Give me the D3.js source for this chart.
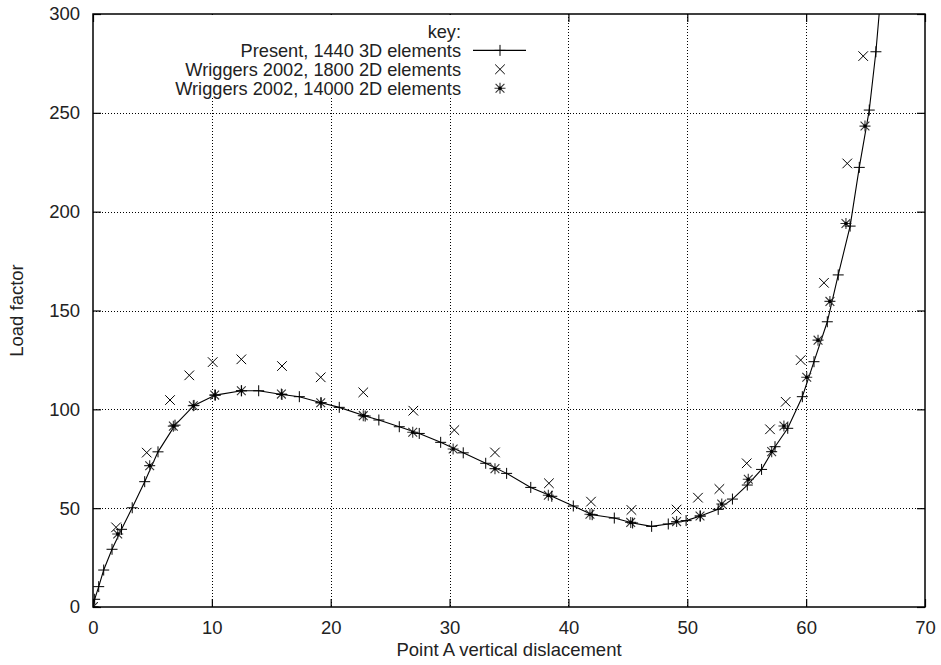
<!DOCTYPE html>
<html>
<head>
<meta charset="utf-8">
<script src="https://cdn.jsdelivr.net/npm/d3@7/dist/d3.min.js"></script>
<style>
  html, body { margin: 0; padding: 0; background: #fff; }
  svg { display: block; }
  text { font-family: "Liberation Sans", Arial, Helvetica, sans-serif; fill: #222; }
</style>
</head>
<body>
<svg id="chart" width="941" height="665"></svg>
<script>
// ---- Data ----
const xTicks = [0, 10, 20, 30, 40, 50, 60, 70];
const yTicks = [0, 50, 100, 150, 200, 250, 300];

// Present, 1440 3D elements  [displacement, load factor]
const present = [
  [0, 0], [0.14, 3.9], [0.48, 10.3], [0.9, 18.7], [1.6, 29.2], [2.4, 39.3],
  [3.3, 50.2], [4.35, 63.4], [5.47, 78.5], [6.9, 92.0], [8.5, 102.0],
  [10.3, 107.2], [12.5, 109.4], [13.94, 109.4], [15.9, 107.5], [17.36, 106.4],
  [19.2, 103.3], [20.72, 101.0], [22.9, 96.6], [24.05, 94.6], [25.77, 91.2],
  [27.45, 87.8], [29.25, 83.3], [31.15, 78.0], [33.04, 72.7], [34.8, 67.6],
  [36.83, 60.5], [38.6, 56.0], [40.41, 51.1], [42.0, 46.7], [43.86, 45.0],
  [45.4, 42.5], [47.0, 40.8], [48.4, 42.0], [49.9, 43.7], [51.1, 46.0],
  [52.6, 49.4], [53.8, 54.6], [55.05, 61.7], [56.25, 69.6], [57.38, 81.1],
  [58.45, 90.4], [59.68, 106.4], [60.66, 124.1], [61.78, 144.3], [62.7, 168.0],
  [63.7, 192.7], [64.47, 222.4], [65.31, 251.4], [65.87, 280.9], [66.4, 318.0]
];

// Wriggers 2002, 1800 2D elements
const wriggers1800 = [
  [0, 0], [1.94, 40.3], [4.52, 78.1], [6.48, 104.7], [8.1, 117.2], [10.07, 123.9],
  [12.48, 125.3], [15.9, 121.9], [19.16, 116.2], [22.74, 108.6], [26.95, 99.3],
  [30.4, 89.5], [33.82, 78.2], [38.36, 62.6], [41.9, 53.3], [45.3, 49.1],
  [49.1, 49.3], [50.9, 55.3], [52.7, 59.7], [55.0, 72.7], [56.96, 89.9],
  [58.28, 103.8], [59.54, 124.9], [61.5, 164.0], [63.46, 224.4], [64.8, 278.7]
];

// Wriggers 2002, 14000 2D elements
const wriggers14000 = [
  [0, 0], [2.08, 36.9], [4.77, 71.5], [6.76, 91.5], [8.44, 101.8], [10.24, 107.2],
  [12.48, 109.4], [15.85, 107.7], [19.16, 103.3], [22.74, 96.8], [26.9, 88.4],
  [30.3, 79.9], [33.82, 70.0], [38.31, 56.5], [41.81, 46.9], [45.24, 42.8],
  [49.1, 43.2], [51.07, 46.0], [52.9, 52.1], [55.13, 64.6], [57.1, 78.6],
  [58.13, 91.6], [60.05, 116.2], [61.0, 135.0], [62.0, 154.6], [63.35, 194.0],
  [64.95, 243.3]
];

const legendLabels = ["Present, 1440 3D elements", "Wriggers 2002, 1800 2D elements", "Wriggers 2002, 14000 2D elements"];

// ---- Layout ----
const svg = d3.select("#chart");
const mL = 93, mR = 925, mT = 14, mB = 607;
const x = d3.scaleLinear().domain([0, 70]).range([mL, mR]);
const y = d3.scaleLinear().domain([0, 300]).range([mB, mT]);
const fontSize = 18.5;
const keyFont = 18.2;

svg.append("defs").append("clipPath").attr("id", "clip")
  .append("rect").attr("x", mL).attr("y", mT).attr("width", mR - mL).attr("height", mB - mT);

// grid
const grid = svg.append("g").attr("stroke", "#000").attr("stroke-width", 1)
  .attr("stroke-dasharray", "1,2").attr("fill", "none");
xTicks.filter(v => v > 0 && v < 70).forEach(v => {
  grid.append("line").attr("x1", Math.round(x(v)) + 0.5).attr("x2", Math.round(x(v)) + 0.5)
    .attr("y1", mT).attr("y2", mB);
});
yTicks.filter(v => v > 0 && v < 300).forEach(v => {
  grid.append("line").attr("y1", Math.round(y(v)) + 0.5).attr("y2", Math.round(y(v)) + 0.5)
    .attr("x1", mL).attr("x2", mR);
});

// axes with inward ticks (mirrored)
const tickLen = 8;
const xAxisB = d3.axisBottom(x).tickValues(xTicks).tickSizeInner(-tickLen).tickSizeOuter(0).tickPadding(14);
const xAxisT = d3.axisTop(x).tickValues(xTicks).tickSizeInner(-tickLen).tickSizeOuter(0).tickFormat("");
const yAxisL = d3.axisLeft(y).tickValues(yTicks).tickSizeInner(-tickLen).tickSizeOuter(0).tickPadding(13);
const yAxisR = d3.axisRight(y).tickValues(yTicks).tickSizeInner(-tickLen).tickSizeOuter(0).tickFormat("");

function styleAxis(g) {
  g.select(".domain").remove();
  g.selectAll("line").attr("stroke", "#000").attr("stroke-width", 1.2);
  g.selectAll("text").attr("font-size", fontSize).attr("fill", "#222")
    .attr("font-family", '"Liberation Sans", Arial, sans-serif');
}
svg.append("g").attr("transform", `translate(0,${mB})`).call(xAxisB).call(styleAxis);
svg.append("g").attr("transform", `translate(0,${mT})`).call(xAxisT).call(styleAxis);
svg.append("g").attr("transform", `translate(${mL},0)`).call(yAxisL).call(styleAxis);
svg.append("g").attr("transform", `translate(${mR},0)`).call(yAxisR).call(styleAxis);

// key box (white, hides grid behind the key)
const keyRight = 461;
const keyRows = [31.5, 50.4, 69.3, 88.2];
svg.append("rect").attr("x", 160).attr("y", mT + 1).attr("width", 382).attr("height", 83).attr("fill", "#fff");

// data
const plot = svg.append("g").attr("clip-path", "url(#clip)");
const line = d3.line().x(d => x(d[0])).y(d => y(d[1]));
plot.append("path").datum(present).attr("d", line).attr("fill", "none")
  .attr("stroke", "#000").attr("stroke-width", 1.1);

function plus(g, cx, cy, r, w, c) {
  g.append("path").attr("d", `M${cx - r},${cy}H${cx + r}M${cx},${cy - r}V${cy + r}`)
    .attr("stroke", c || "#000").attr("stroke-width", w).attr("fill", "none");
}
function cross(g, cx, cy, r, w, c) {
  g.append("path").attr("d", `M${cx - r},${cy - r}L${cx + r},${cy + r}M${cx - r},${cy + r}L${cx + r},${cy - r}`)
    .attr("stroke", c || "#000").attr("stroke-width", w).attr("fill", "none");
}
function star(g, cx, cy, r, w) {
  plus(g, cx, cy, r, w, "#333");
  cross(g, cx, cy, r * 0.8, w, "#333");
  g.append("circle").attr("cx", cx).attr("cy", cy).attr("r", 1.8).attr("fill", "#000");
}

wriggers1800.forEach(d => cross(plot, x(d[0]), y(d[1]), 4.8, 1));
wriggers14000.forEach(d => star(plot, x(d[0]), y(d[1]), 5.5, 1.1));
present.forEach(d => plus(plot, x(d[0]), y(d[1]), 5.5, 1));

// border
svg.append("rect").attr("x", mL).attr("y", mT).attr("width", mR - mL).attr("height", mB - mT)
  .attr("fill", "none").attr("stroke", "#000").attr("stroke-width", 1.5);

// key
const key = svg.append("g").attr("font-size", keyFont);
key.append("text").attr("x", keyRight).attr("y", keyRows[0]).attr("dy", "0.35em")
  .attr("text-anchor", "end").text("key:");
legendLabels.forEach((t, i) => {
  key.append("text").attr("x", keyRight).attr("y", keyRows[i + 1]).attr("dy", "0.35em")
    .attr("text-anchor", "end").text(t);
});
const sx = 500;
key.append("line").attr("x1", 473).attr("x2", 526).attr("y1", keyRows[1]).attr("y2", keyRows[1])
  .attr("stroke", "#000").attr("stroke-width", 1.1);
plus(key, sx, keyRows[1], 5.5, 1);
cross(key, sx, keyRows[2], 4.8, 1);
star(key, sx, keyRows[3], 5.5, 1.1);

// axis titles
svg.append("text").attr("x", (mL + mR) / 2).attr("y", 650).attr("dy", "0.35em")
  .attr("text-anchor", "middle").attr("font-size", fontSize).text("Point A vertical dislacement");
svg.append("text").attr("transform", `translate(17,${(mT + mB) / 2}) rotate(-90)`)
  .attr("dy", "0.35em").attr("text-anchor", "middle").attr("font-size", fontSize).text("Load factor");
</script>
</body>
</html>
